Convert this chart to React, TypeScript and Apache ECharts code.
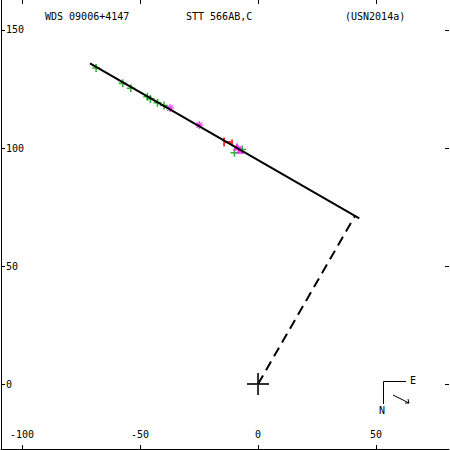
import React, { useEffect, useRef } from "react";
import * as echarts from "echarts";

const xTicks = [-100, -50, 0, 50];
const yTicks = [0, 50, 100, 150];

const fitLine = [[-71.2, 135.9], [42.9, 70.2]];
const nodeLine = [[0, 0], [41.1, 71.3]];
const primary = [[0, 0]];

const greenPlus = [
  [-68.6, 133.9], [-57.3, 127.4], [-53.9, 125.3], [-46.9, 121.7], [-45.6, 120.8],
  [-42.6, 119.2], [-39.8, 118.0], [-10.0, 98.0], [-6.7, 99.4],
];
const magentaStar = [[-37.3, 116.9], [-24.9, 109.7]];
const magentaTri = [[-8.9, 100.6], [-7.5, 99.3]];
const redMark = [[-12.7, 102.5]];

const FONT = "DejaVu Sans Mono";

const plusPath = "path://M0,5L10,5M5,0L5,10";
const starPath = "path://M0,5L10,5M5,0L5,10M1.5,1.5L8.5,8.5M8.5,1.5L1.5,8.5";
const hPath = "path://M0,0L0,10M0,5L8,5M8,2L8,8";

export default function App() {
  const ref = useRef<HTMLDivElement>(null);
  useEffect(() => {
    const chart = echarts.init(ref.current!, null, { renderer: "svg" });
    const axisText = { color: "#000", fontFamily: FONT, fontSize: 10 };
    chart.setOption({
      animation: false,
      backgroundColor: "#fff",
      grid: { left: 1, right: 1, top: 0, bottom: 1, containLabel: false },
      xAxis: [
        {
          type: "value", position: "bottom", min: -108.9, max: 80.9,
          axisLine: { show: true, onZero: false, lineStyle: { color: "#000", width: 1 } },
          axisTick: { show: true, inside: true, length: 4, customValues: xTicks, lineStyle: { color: "#000" } },
          axisLabel: { show: true, inside: true, margin: 10, customValues: xTicks, ...axisText },
          splitLine: { show: false },
        },
        {
          type: "value", position: "top", min: -108.9, max: 80.9,
          axisLine: { show: false, onZero: false },
          axisTick: { show: true, inside: true, length: 4, customValues: xTicks, lineStyle: { color: "#000" } },
          axisLabel: { show: false },
          splitLine: { show: false },
        },
      ],
      yAxis: [
        {
          type: "value", position: "left", min: -27.5, max: 162.7,
          axisLine: { show: true, onZero: false, lineStyle: { color: "#000", width: 1 } },
          axisTick: { show: true, inside: true, length: 4, customValues: yTicks, lineStyle: { color: "#000" } },
          axisLabel: { show: true, inside: true, margin: 5, customValues: yTicks, ...axisText },
          splitLine: { show: false },
        },
        {
          type: "value", position: "right", min: -27.5, max: 162.7,
          axisLine: { show: false, onZero: false },
          axisTick: { show: true, inside: true, length: 4, customValues: yTicks, lineStyle: { color: "#000" } },
          axisLabel: { show: false },
          splitLine: { show: false },
        },
      ],
      graphic: [
        { type: "text", left: 45, top: 11, style: { text: "WDS 09006+4147", fill: "#000", font: `10px '${FONT}'` } },
        { type: "text", left: 186, top: 11, style: { text: "STT 566AB,C", fill: "#000", font: `10px '${FONT}'` } },
        { type: "text", left: 345, top: 11, style: { text: "(USN2014a)", fill: "#000", font: `10px '${FONT}'` } },
        { type: "polyline", shape: { points: [[406, 381.5], [383.5, 381.5], [383.5, 404]] }, style: { stroke: "#000", lineWidth: 1, fill: null } },
        { type: "text", x: 410, y: 375, style: { text: "E", fill: "#000", font: `10px '${FONT}'` } },
        { type: "text", x: 379, y: 405, style: { text: "N", fill: "#000", font: `10px '${FONT}'` } },
        { type: "line", shape: { x1: 393, y1: 395, x2: 409, y2: 403 }, style: { stroke: "#000", lineWidth: 1 } },
        { type: "polyline", shape: { points: [[405, 403], [409, 403], [408, 399]] }, style: { stroke: "#000", lineWidth: 1, fill: null } },
      ],
      series: [
        {
          type: "line", data: fitLine, symbol: "none", silent: true,
          lineStyle: { color: "#000", width: 2 },
        },
        {
          type: "line", data: nodeLine, symbol: "none", silent: true,
          lineStyle: { color: "#000", width: 2, type: [10, 6] },
        },
        {
          type: "scatter", data: greenPlus, symbol: plusPath, symbolSize: 8,
          itemStyle: { color: "#00a000", borderColor: "#00a000", borderWidth: 1.6 },
        },
        {
          type: "scatter", data: magentaStar, symbol: starPath, symbolSize: 8,
          itemStyle: { color: "#ff00ff", borderColor: "#ff00ff", borderWidth: 1.2 },
        },
        {
          type: "scatter", data: magentaTri, symbol: "triangle", symbolSize: 8,
          itemStyle: { color: "#ff00ff" },
        },
        {
          type: "scatter", data: redMark, symbol: hPath, symbolSize: [8, 9],
          itemStyle: { color: "#ff0000", borderColor: "#ff0000", borderWidth: 2 },
        },
        {
          type: "scatter", data: primary, symbol: plusPath, symbolSize: 22,
          itemStyle: { color: "#000", borderColor: "#000", borderWidth: 2 },
        },
      ],
    });
    return () => chart.dispose();
  }, []);
  return (
    <div
      ref={ref}
      style={{ position: "fixed", left: 0, top: 0, width: 450, height: 450 }}
    />
  );
}
